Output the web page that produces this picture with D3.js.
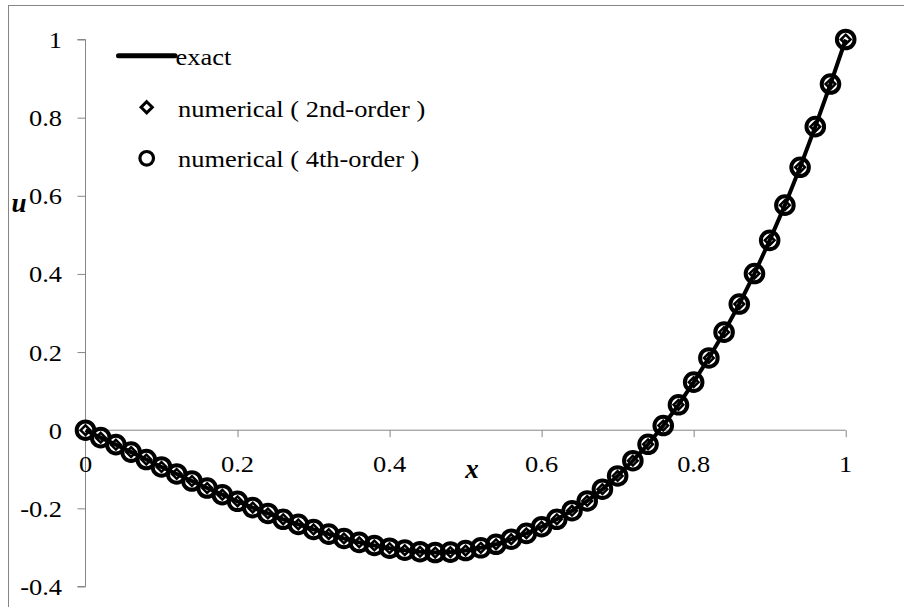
<!DOCTYPE html>
<html>
<head>
<meta charset="utf-8">
<script src="https://cdn.jsdelivr.net/npm/d3@7"></script>
<style>
  html, body { margin: 0; padding: 0; background: #fff; }
  svg { display: block; }
  text { font-family: "Liberation Serif", "Times New Roman", serif; fill: #000; }
</style>
</head>
<body>
<svg id="chart" width="904" height="607"></svg>
<script>
// Grid points x = 0, 0.02, ..., 1
const xValues = [0.00,0.02,0.04,0.06,0.08,0.10,0.12,0.14,0.16,0.18,
                 0.20,0.22,0.24,0.26,0.28,0.30,0.32,0.34,0.36,0.38,
                 0.40,0.42,0.44,0.46,0.48,0.50,0.52,0.54,0.56,0.58,
                 0.60,0.62,0.64,0.66,0.68,0.70,0.72,0.74,0.76,0.78,
                 0.80,0.82,0.84,0.86,0.88,0.90,0.92,0.94,0.96,0.98,1.00];

// Exact solution u(x)
const uExact = [0.000,-0.019,-0.037,-0.056,-0.075,-0.094,-0.112,-0.130,-0.148,-0.165,
                -0.182,-0.198,-0.213,-0.228,-0.241,-0.254,-0.266,-0.277,-0.287,-0.295,
                -0.302,-0.307,-0.311,-0.313,-0.312,-0.308,-0.301,-0.292,-0.279,-0.264,
                -0.247,-0.228,-0.206,-0.181,-0.151,-0.117,-0.078,-0.036,0.012,0.065,
                0.123,0.185,0.251,0.323,0.401,0.486,0.576,0.673,0.777,0.886,1.000];

// Second-order scheme
const u2nd = [0.000,-0.019,-0.037,-0.056,-0.075,-0.094,-0.112,-0.130,-0.148,-0.165,
              -0.182,-0.198,-0.213,-0.228,-0.241,-0.254,-0.266,-0.277,-0.287,-0.295,
              -0.302,-0.307,-0.311,-0.313,-0.312,-0.308,-0.301,-0.292,-0.279,-0.264,
              -0.247,-0.228,-0.206,-0.181,-0.151,-0.117,-0.078,-0.036,0.012,0.065,
              0.123,0.185,0.251,0.323,0.401,0.486,0.576,0.673,0.777,0.886,1.000];

// Fourth-order scheme
const u4th = [0.000,-0.019,-0.037,-0.056,-0.075,-0.094,-0.112,-0.130,-0.148,-0.165,
              -0.182,-0.198,-0.213,-0.228,-0.241,-0.254,-0.266,-0.277,-0.287,-0.295,
              -0.302,-0.307,-0.311,-0.313,-0.312,-0.308,-0.301,-0.292,-0.279,-0.264,
              -0.247,-0.228,-0.206,-0.181,-0.151,-0.117,-0.078,-0.036,0.012,0.065,
              0.123,0.185,0.251,0.323,0.401,0.486,0.576,0.673,0.777,0.886,1.000];

const xTicks = [0, 0.2, 0.4, 0.6, 0.8, 1];
const xTickLabels = ["0", "0.2", "0.4", "0.6", "0.8", "1"];
const yTicks = [-0.4, -0.2, 0, 0.2, 0.4, 0.6, 0.8, 1];
const yTickLabels = ["-0.4", "-0.2", "0", "0.2", "0.4", "0.6", "0.8", "1"];
const legendLabels = ["exact", "numerical ( 2nd-order )", "numerical ( 4th-order )"];

const svg = d3.select("#chart");
const axisColor = "#868686";
const stretch = 1.15;   // serif glyphs are drawn slightly wide
const fontSize = 23;

const x = d3.scaleLinear().domain([0, 1]).range([85.5, 845.7]);
const y = d3.scaleLinear().domain([-0.4, 1]).range([586.5, 39.5]);

// outer frame
svg.append("rect")
  .attr("x", 8.5).attr("y", 5.5)
  .attr("width", 1000).attr("height", 1000)
  .attr("fill", "none").attr("stroke", axisColor).attr("stroke-width", 1);

function wideText(g, tx, ty, str, anchor) {
  return g.append("text")
    .attr("transform", `translate(${tx},${ty}) scale(${stretch},1)`)
    .attr("text-anchor", anchor)
    .style("font-size", fontSize + "px")
    .text(str);
}

// y axis
const yAxis = d3.axisLeft(y).tickValues(yTicks).tickSize(8).tickFormat("");
const gy = svg.append("g").attr("transform", `translate(${x(0)},0)`).call(yAxis);
gy.select(".domain").attr("stroke", axisColor).attr("d", `M-8,${y(-0.4)}H0V${y(1)}H-8`);
gy.selectAll(".tick line").attr("stroke", axisColor);

const yLab = svg.append("g");
yTicks.forEach((v, i) => wideText(yLab, 62, y(v) + 8.5, yTickLabels[i], "end"));

// x axis along u = 0
const xAxis = d3.axisBottom(x).tickValues(xTicks).tickSize(7).tickFormat("");
const gx = svg.append("g").attr("transform", `translate(0,${y(0)})`).call(xAxis);
gx.select(".domain").attr("stroke", axisColor).attr("d", `M${x(0)},0H${x(1)}`);
gx.selectAll(".tick line").attr("stroke", axisColor);

const xLab = svg.append("g");
xTicks.forEach((v, i) => wideText(xLab, x(v), y(0) + 41.5, xTickLabels[i], "middle"));

// axis titles
svg.append("text").attr("x", 19).attr("y", 212).attr("text-anchor", "middle")
  .style("font-size", "27px").style("font-weight", "bold").style("font-style", "italic")
  .text("u");
svg.append("text").attr("x", 472).attr("y", 478).attr("text-anchor", "middle")
  .style("font-size", "27px").style("font-weight", "bold").style("font-style", "italic")
  .text("x");

// series
const exactData = xValues.map((v, i) => [v, uExact[i]]);
const data2 = xValues.map((v, i) => [v, u2nd[i]]);
const data4 = xValues.map((v, i) => [v, u4th[i]]);

const diamond = d3.symbol().type(d3.symbolDiamond2).size(60);
svg.append("g").selectAll("path").data(data2).join("path")
  .attr("d", diamond)
  .attr("transform", d => `translate(${x(d[0])},${y(d[1])})`)
  .attr("fill", "#fff").attr("stroke", "#000").attr("stroke-width", 2.5);

svg.append("g").selectAll("circle").data(data4).join("circle")
  .attr("cx", d => x(d[0])).attr("cy", d => y(d[1])).attr("r", 8.8)
  .attr("fill", "none").attr("stroke", "#000").attr("stroke-width", 4);

// exact curve drawn over the markers
const line = d3.line().x(d => x(d[0])).y(d => y(d[1]));
svg.append("path").datum(exactData)
  .attr("d", line).attr("fill", "none").attr("stroke", "#000").attr("stroke-width", 4)
  .attr("stroke-linejoin", "round");

// legend
const lg = svg.append("g");
lg.append("line").attr("x1", 118.5).attr("x2", 175).attr("y1", 55.7).attr("y2", 55.7)
  .attr("stroke", "#000").attr("stroke-width", 5).attr("stroke-linecap", "round");
wideText(lg, 175.5, 65, legendLabels[0], "start");

lg.append("path").attr("d", d3.symbol().type(d3.symbolDiamond2).size(80))
  .attr("transform", "translate(146.7,107.3)")
  .attr("fill", "#fff").attr("stroke", "#000").attr("stroke-width", 3);
wideText(lg, 178, 116.7, legendLabels[1], "start");

lg.append("circle").attr("cx", 146.7).attr("cy", 158.3).attr("r", 6.8)
  .attr("fill", "none").attr("stroke", "#000").attr("stroke-width", 3.2);
wideText(lg, 178, 166.7, legendLabels[2], "start");
</script>
</body>
</html>
